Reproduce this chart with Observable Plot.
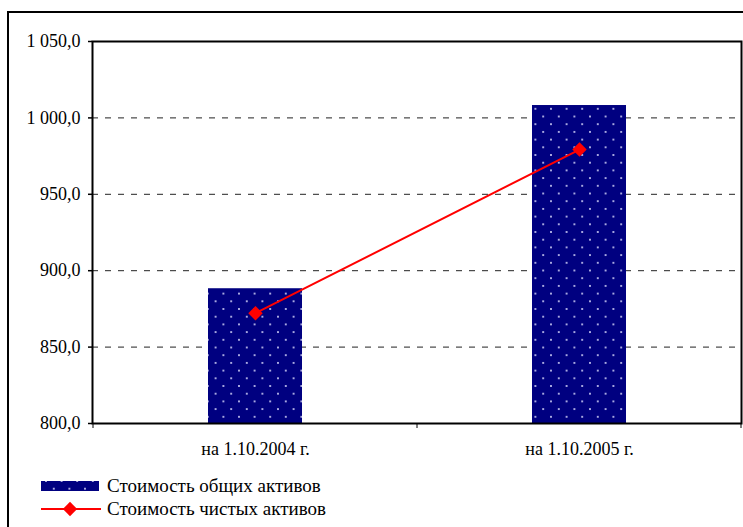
<!DOCTYPE html>
<html>
<head>
<meta charset="utf-8">
<script src="https://cdn.jsdelivr.net/npm/d3@7"></script>
<script src="https://cdn.jsdelivr.net/npm/@observablehq/plot@0.6"></script>
<style>
  html, body { margin: 0; padding: 0; background: #fff; width: 743px; height: 527px; overflow: hidden; }
  #border { position: absolute; left: 7px; top: 11px; width: 800px; height: 600px; border: 2px solid #000; }
  #chart { position: absolute; left: 0; top: 0; }
  #legend { position: absolute; left: 41px; top: 474px; font-family: "Liberation Serif", "DejaVu Serif", serif; font-size: 19px; color: #000; }
  .row { display: flex; align-items: center; height: 23px; }
  .row svg { margin-right: 6px; }
  #chart svg text { font-family: "Liberation Serif", "DejaVu Serif", serif; }
</style>
</head>
<body>
<div id="border"></div>
<div id="chart"></div>
<div id="legend"></div>
<script>
const categories = ["на 1.10.2004 г.", "на 1.10.2005 г."];
const totalAssets = [888.2, 1008.1];
const netAssets = [872.2, 979.3];
const yTicks = [800, 850, 900, 950, 1000, 1050];
const gridTicks = [850, 900, 950, 1000];
const seriesNames = ["Стоимость общих активов", "Стоимость чистых активов"];

const data = categories.map((c, i) => ({cat: c, total: totalAssets[i], net: netAssets[i]}));
const fmt = d => d3.format(",.1f")(d).replace(/,/g, " ").replace(".", ",");

const chart = Plot.plot({
  width: 743,
  height: 460,
  marginTop: 41,
  marginBottom: 37,
  marginLeft: 92,
  marginRight: 2,
  style: {fontFamily: "Liberation Serif, DejaVu Serif, serif", fontSize: "18px", color: "#000", background: "transparent"},
  x: {domain: categories, paddingInner: 0.71, paddingOuter: 0.355, label: null},
  y: {domain: [800, 1050], label: null},
  marks: [
    Plot.ruleY(gridTicks, {stroke: "#222", strokeWidth: 1, strokeDasharray: "6,7"}),
    Plot.barY(data, {x: "cat", y1: 800, y2: "total", fill: "url(#dots)"}),
    Plot.line(data, {x: "cat", y: "net", stroke: "#ff0000", strokeWidth: 2}),
    Plot.dot(data, {x: "cat", y: "net", symbol: "diamond2", r: 6.5, fill: "#ff0000", stroke: "none"}),
    Plot.axisY({ticks: yTicks, tickFormat: fmt, tickSize: 4, tickPadding: 8, stroke: "#000", strokeWidth: 1.5, strokeOpacity: 1, fontSize: 18}),
    Plot.axisX({tickSize: 0, tickPadding: 19, fontSize: 18}),
    Plot.frame({stroke: "#000", strokeWidth: 2})
  ]
});
document.getElementById("chart").appendChild(chart);

const svg = d3.select(chart);
const defs = svg.insert("defs", ":first-child");
function addPattern(defs, id) {
  const p = defs.append("pattern").attr("id", id).attr("patternUnits", "userSpaceOnUse")
    .attr("width", 15.6).attr("height", 15.4).attr("x", 5).attr("y", 1);
  p.append("rect").attr("width", 15.6).attr("height", 15.4).attr("fill", "#000080");
  const pts = [[0, 0], [15.6, 0], [0, 15.4], [15.6, 15.4], [7.8, 7.7]];
  pts.forEach(([cx, cy]) => p.append("circle").attr("cx", cx).attr("cy", cy).attr("r", 1.0).attr("fill", "#e0e0ff"));
}
addPattern(defs, "dots");

// category boundary ticks on x axis
const xs = chart.scale("x"), ys = chart.scale("y");
const y0 = ys.apply(800);
const bounds = [];
categories.forEach((c, i) => {
  const left = xs.apply(c) - (xs.step - xs.bandwidth) / 2;
  bounds.push(left);
  if (i === categories.length - 1) bounds.push(left + xs.step);
});
svg.append("g").selectAll("line").data(bounds).join("line")
  .attr("x1", d => d).attr("x2", d => d).attr("y1", y0).attr("y2", y0 + 5)
  .attr("stroke", "#000").attr("stroke-width", 1);

// legend
const legend = d3.select("#legend");
const r1 = legend.append("div").attr("class", "row");
const s1 = r1.append("svg").attr("width", 60).attr("height", 12);
s1.append("defs").call(d => addPattern(d, "dots2"));
s1.append("rect").attr("x", 0).attr("y", 1).attr("width", 58).attr("height", 10).attr("fill", "url(#dots2)");
r1.append("span").text(seriesNames[0]);
const r2 = legend.append("div").attr("class", "row");
const s2 = r2.append("svg").attr("width", 60).attr("height", 16);
s2.append("line").attr("x1", 0).attr("x2", 60).attr("y1", 8).attr("y2", 8).attr("stroke", "#ff0000").attr("stroke-width", 2);
s2.append("path").attr("d", d3.symbol(d3.symbolDiamond2, 130)()).attr("transform", "translate(29,8)").attr("fill", "#ff0000");
r2.append("span").text(seriesNames[1]);
</script>
</body>
</html>
